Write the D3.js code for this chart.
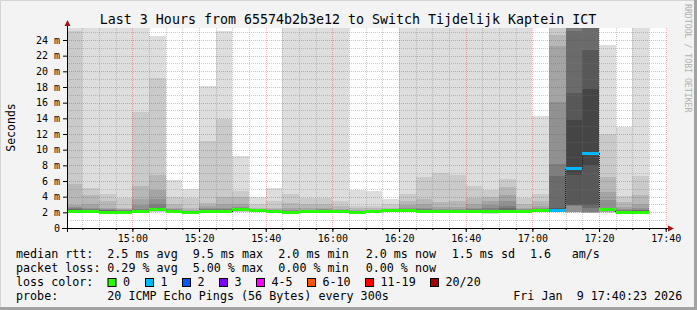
<!DOCTYPE html>
<html>
<head>
<meta charset="utf-8">
<script src="https://cdn.jsdelivr.net/npm/d3@7"></script>
<style>
body { margin: 0; background: #f3f3f3; }
text { font-family: "DejaVu Sans Mono", monospace; white-space: pre; }
</style>
</head>
<body>
<div id="chart"></div>
<script>
var svgWidth = 697;
var svgHeight = 310;

var margin = { top: 28, left: 67 };
var width = 600;
var height = 200;

// graph window (3 hours)
var graphStart = "2026-01-09 14:40:23";
var graphEnd = "2026-01-09 17:40:23";

// end of each 5 minute step
var stepEnd = ["14:45", "14:50", "14:55", "15:00", "15:05", "15:10", "15:15", "15:20", "15:25",
	"15:30", "15:35", "15:40", "15:45", "15:50", "15:55", "16:00", "16:05", "16:10", "16:15",
	"16:20", "16:25", "16:30", "16:35", "16:40", "16:45", "16:50", "16:55", "17:00", "17:05",
	"17:10", "17:15", "17:20", "17:25", "17:30", "17:35"];

// median rtt per step (ms)
var median = [2.1, 2.1, 2.0, 2.0, 2.1, 2.3, 2.1, 1.95, 2.1, 2.1, 2.3, 2.2, 2.1, 1.95, 2.1, 2.1,
	2.1, 1.95, 2.1, 2.25, 2.25, 2.1, 2.1, 2.1, 2.1, 2.05, 2.15, 2.15, 2.25, 2.25, 7.55, 9.5,
	2.3, 2.0, 2.0];

// lost pings per step (of 20)
var loss = [0, 0, 0, 0, 0, 0, 0, 0, 0, 0, 0, 0, 0, 0, 0, 0, 0, 0, 0, 0, 0, 0, 0, 0, 0, 0, 0,
	0, 0, 1, 1, 1, 0, 0, 0];

// 20 sorted ping times per step (ms), values above 25.5 are off the chart
var pings = [
	[1.88, 1.9, 1.93, 1.95, 1.97, 1.99, 2.01, 2.03, 2.05, 2.08, 2.2, 2.28, 2.35, 2.45, 2.55, 2.7, 2.9, 5.6, 25.2, 27],
	[1.88, 1.9, 1.93, 1.95, 1.97, 1.99, 2.01, 2.03, 2.05, 2.08, 2.2, 2.25, 2.3, 2.35, 2.45, 2.6, 3.0, 4.2, 5.1, 27],
	[1.8, 1.83, 1.86, 1.88, 1.9, 1.92, 1.94, 1.96, 1.97, 1.99, 2.1, 2.15, 2.2, 2.25, 2.3, 2.4, 2.6, 3.45, 4.3, 27],
	[1.8, 1.83, 1.86, 1.88, 1.9, 1.92, 1.94, 1.96, 1.97, 1.99, 2.05, 2.1, 2.15, 2.2, 2.25, 2.3, 2.4, 2.6, 3.8, 27],
	[1.88, 1.9, 1.93, 1.95, 1.97, 1.99, 2.01, 2.03, 2.05, 2.08, 2.2, 2.25, 2.3, 2.35, 2.45, 2.94, 3.7, 5.36, 14.85, 27],
	[2.05, 2.1, 2.13, 2.16, 2.19, 2.21, 2.23, 2.25, 2.27, 2.29, 2.4, 2.45, 2.5, 2.6, 3.0, 3.7, 4.85, 6.8, 19.1, 24.5],
	[1.88, 1.9, 1.93, 1.95, 1.97, 1.99, 2.01, 2.03, 2.05, 2.08, 2.15, 2.2, 2.25, 2.3, 2.35, 2.45, 2.6, 3.1, 3.9, 6.1],
	[1.75, 1.78, 1.8, 1.83, 1.85, 1.87, 1.89, 1.91, 1.92, 1.94, 1.98, 2.0, 2.05, 2.1, 2.15, 2.2, 2.3, 2.6, 3.8, 5.0],
	[1.88, 1.9, 1.93, 1.95, 1.97, 1.99, 2.01, 2.03, 2.05, 2.08, 2.15, 2.2, 2.25, 2.3, 2.4, 2.5, 2.8, 3.2, 11.1, 18.1],
	[1.88, 1.9, 1.93, 1.95, 1.97, 1.99, 2.01, 2.03, 2.05, 2.08, 2.2, 2.25, 2.3, 2.35, 2.45, 2.6, 3.0, 3.9, 13.9, 25.2],
	[2.05, 2.1, 2.13, 2.16, 2.19, 2.21, 2.23, 2.25, 2.27, 2.29, 2.35, 2.4, 2.45, 2.5, 2.6, 2.7, 3.0, 3.9, 4.7, 9.2],
	[1.98, 2.02, 2.05, 2.08, 2.1, 2.12, 2.14, 2.16, 2.18, 2.19, 2.24, 2.26, 2.28, 2.3, 2.35, 2.4, 2.45, 2.6, 3.0, 3.9],
	[1.88, 1.9, 1.93, 1.95, 1.97, 1.99, 2.01, 2.03, 2.05, 2.08, 2.12, 2.15, 2.18, 2.2, 2.25, 2.3, 2.4, 2.6, 3.5, 5.1],
	[1.75, 1.78, 1.8, 1.83, 1.85, 1.87, 1.89, 1.91, 1.92, 1.94, 1.98, 2.0, 2.05, 2.1, 2.2, 2.35, 2.6, 3.2, 4.4, 27],
	[1.88, 1.9, 1.93, 1.95, 1.97, 1.99, 2.01, 2.03, 2.05, 2.08, 2.14, 2.17, 2.2, 2.25, 2.3, 2.35, 2.5, 3.0, 3.8, 27],
	[1.88, 1.9, 1.93, 1.95, 1.97, 1.99, 2.01, 2.03, 2.05, 2.08, 2.14, 2.17, 2.2, 2.25, 2.3, 2.4, 2.5, 3.0, 3.8, 27],
	[1.88, 1.9, 1.93, 1.95, 1.97, 1.99, 2.01, 2.03, 2.05, 2.08, 2.13, 2.16, 2.2, 2.25, 2.3, 2.35, 2.45, 2.8, 3.5, 27],
	[1.75, 1.78, 1.8, 1.83, 1.85, 1.87, 1.89, 1.91, 1.92, 1.94, 1.98, 2.0, 2.02, 2.05, 2.1, 2.2, 2.3, 2.5, 2.8, 4.9],
	[1.88, 1.9, 1.93, 1.95, 1.97, 1.99, 2.01, 2.03, 2.05, 2.08, 2.12, 2.15, 2.17, 2.2, 2.25, 2.3, 2.35, 2.5, 2.8, 4.7],
	[2.03, 2.07, 2.1, 2.13, 2.15, 2.17, 2.19, 2.21, 2.22, 2.24, 2.26, 2.28, 2.3, 2.32, 2.35, 2.4, 2.45, 2.6, 3.0, 3.7],
	[2.03, 2.07, 2.1, 2.13, 2.15, 2.17, 2.19, 2.21, 2.22, 2.24, 2.28, 2.3, 2.32, 2.35, 2.4, 2.5, 2.9, 3.5, 4.3, 27],
	[1.88, 1.9, 1.93, 1.95, 1.97, 1.99, 2.01, 2.03, 2.05, 2.08, 2.14, 2.17, 2.2, 2.3, 2.4, 2.6, 3.1, 3.75, 6.55, 27],
	[1.88, 1.9, 1.93, 1.95, 1.97, 1.99, 2.01, 2.03, 2.05, 2.08, 2.14, 2.17, 2.2, 2.25, 2.3, 2.45, 2.65, 3.3, 7.0, 27],
	[1.88, 1.9, 1.93, 1.95, 1.97, 1.99, 2.01, 2.03, 2.05, 2.08, 2.14, 2.17, 2.2, 2.25, 2.3, 2.45, 2.7, 3.5, 6.77, 27],
	[1.88, 1.9, 1.93, 1.95, 1.97, 1.99, 2.01, 2.03, 2.05, 2.08, 2.14, 2.17, 2.2, 2.25, 2.4, 2.6, 3.0, 3.8, 5.36, 27],
	[1.85, 1.88, 1.9, 1.93, 1.95, 1.97, 1.99, 2.01, 2.02, 2.04, 2.15, 2.2, 2.25, 2.35, 2.5, 2.9, 3.5, 4.0, 4.8, 27],
	[1.93, 1.96, 1.99, 2.02, 2.04, 2.06, 2.08, 2.1, 2.12, 2.14, 2.25, 2.3, 2.35, 2.5, 2.8, 3.5, 4.2, 5.2, 6.25, 27],
	[1.93, 1.96, 1.99, 2.02, 2.04, 2.06, 2.08, 2.1, 2.12, 2.14, 2.2, 2.22, 2.25, 2.3, 2.35, 2.4, 2.5, 3.0, 3.8, 27],
	[2.03, 2.07, 2.1, 2.13, 2.15, 2.17, 2.19, 2.21, 2.22, 2.24, 2.3, 2.32, 2.35, 2.4, 2.45, 2.55, 2.8, 3.5, 4.4, 14.3],
	[2.0, 2.05, 2.08, 2.1, 2.13, 2.16, 2.18, 2.2, 2.22, 2.24, 2.35, 2.45, 2.6, 6.6, 8.2, 16.1, 23.2, 24.6, 26, 27],
	[1.95, 1.98, 2.0, 2.02, 2.05, 2.85, 2.9, 2.94, 6.8, 7.45, 7.65, 13.8, 17.2, 25.1, 26, 26.2, 26.4, 26.6, 26.8, 27],
	[1.92, 1.95, 1.97, 1.99, 2.0, 2.0, 2.5, 2.94, 8.1, 9.4, 9.6, 17.8, 22.7, 26, 26.2, 26.4, 26.6, 26.8, 27, 27.2],
	[1.95, 2.0, 2.05, 2.1, 2.15, 2.18, 2.21, 2.24, 2.26, 2.28, 2.35, 2.4, 2.45, 2.5, 2.6, 3.6, 4.6, 6.55, 12.0, 23.3],
	[1.8, 1.83, 1.86, 1.88, 1.9, 1.92, 1.94, 1.96, 1.97, 1.99, 2.07, 2.1, 2.15, 2.2, 2.3, 2.4, 2.7, 3.3, 4.1, 12.85],
	[1.8, 1.83, 1.86, 1.88, 1.9, 1.92, 1.94, 1.96, 1.97, 1.99, 2.12, 2.15, 2.2, 2.25, 2.35, 2.5, 3.1, 4.15, 6.6, 27]
];

// y axis labels
var yTickValues = [0, 2, 4, 6, 8, 10, 12, 14, 16, 18, 20, 22, 24];

// loss color legend
var lossLabels = ["0", "1", "2", "3", "4-5", "6-10", "11-19", "20/20"];
var lossColors = ["#26ff00", "#00b8ff", "#0059ff", "#7e00ff", "#ff00ff", "#ff5500", "#ff0000", "#a10000"];
var lossBoxX = [108, 145.5, 182.5, 219.5, 256.5, 307.5, 365.5, 430.5];

// legend rows: label, items and their x positions
var legendRows = [
	{ label: "median rtt:", items: ["2.5 ms avg", "9.5 ms max", "2.0 ms min", "2.0 ms now", "1.5 ms sd", "1.6", "am/s"],
		xs: [107.3, 192.7, 278.3, 365.7, 451.7, 530, 571.7] },
	{ label: "packet loss:", items: ["0.29 % avg", "5.00 % max", "0.00 % min", "0.00 % now"],
		xs: [107.3, 192.7, 278.3, 365.7] }
];

var parseTime = d3.timeParse("%Y-%m-%d %H:%M:%S");
var parseStep = d3.timeParse("%Y-%m-%d %H:%M");
var tStart = parseTime(graphStart);
var tEnd = parseTime(graphEnd);
var steps = stepEnd.map(s => parseStep("2026-01-09 " + s));

var svg = d3.select("#chart")
	.append("svg")
	.attr("width", svgWidth)
	.attr("height", svgHeight);

// canvas background and frame
svg.append("rect").attr("width", svgWidth).attr("height", svgHeight).attr("fill", "#f3f3f3");
svg.append("path").attr("d", "M0.5,309V0.5H696").attr("stroke", "#d4d4d4").attr("fill", "none");
svg.append("path").attr("d", "M0,308.5H695.5V0").attr("stroke", "#a2a2a2").attr("stroke-width", 3).attr("fill", "none");

var x = d3.scaleTime().domain([tStart, tEnd]).range([margin.left, margin.left + width]);
var y = d3.scaleLinear().domain([0, 25.53]).range([margin.top + height, margin.top]);

svg.append("rect")
	.attr("x", margin.left).attr("y", margin.top)
	.attr("width", width).attr("height", height)
	.attr("fill", "#ffffff");

svg.append("clipPath").attr("id", "plotclip")
	.append("rect")
	.attr("x", margin.left).attr("y", margin.top)
	.attr("width", width).attr("height", height);

// left edge of a step, clipped to the graph start
function stepStart(t) {
	return x(Math.max(+d3.timeMinute.offset(t, -5), +tStart));
}

// smoke: layer i spans ping i .. ping 21-i, darker towards the middle
var smokeGroup = svg.append("g").attr("clip-path", "url(#plotclip)").attr("shape-rendering", "crispEdges");
var layerIdx = d3.range(10);
function smokeColor(i) {
	var g = Math.round(190 / 10 * (9 - i)) + 50;
	return d3.rgb(g, g, g).toString();
}

steps.forEach(function(t, k) {
	var x0 = stepStart(t);
	var x1 = x(t);
	smokeGroup.selectAll(null)
		.data(layerIdx)
		.enter()
		.append("rect")
		.attr("x", x0)
		.attr("width", x1 - x0)
		.attr("y", i => y(pings[k][19 - i]))
		.attr("height", i => y(pings[k][i]) - y(pings[k][19 - i]))
		.attr("fill", i => smokeColor(i));
});

// grid (dotted, major every 2 ms / 20 min)
var gridGroup = svg.append("g").attr("shape-rendering", "crispEdges");
d3.range(1, 26).forEach(function(v) {
	gridGroup.append("line")
		.attr("x1", margin.left).attr("x2", margin.left + width)
		.attr("y1", Math.round(y(v)) + 0.5).attr("y2", Math.round(y(v)) + 0.5)
		.attr("stroke", v % 2 === 0 ? "rgba(255,0,0,0.32)" : "rgba(120,120,120,0.38)")
		.attr("stroke-dasharray", "1,1");
});
x.ticks(d3.timeMinute.every(5)).forEach(function(t) {
	var px = Math.round(x(t)) + 0.5;
	gridGroup.append("line")
		.attr("x1", px).attr("x2", px)
		.attr("y1", margin.top).attr("y2", margin.top + height)
		.attr("stroke", t.getMinutes() % 20 === 0 ? "rgba(255,0,0,0.32)" : "rgba(120,120,120,0.38)")
		.attr("stroke-dasharray", "1,1");
});

// median: dotted step line plus loss coloured segments
var medianPts = [];
steps.forEach(function(t, k) {
	medianPts.push([stepStart(t), y(median[k])]);
	medianPts.push([x(t), y(median[k])]);
});
svg.append("path")
	.attr("d", d3.line()(medianPts))
	.attr("fill", "none")
	.attr("stroke", "#222")
	.attr("stroke-dasharray", "1,1")
	.attr("shape-rendering", "crispEdges");

function lossIndex(n) {
	if (n <= 3) return n;
	if (n <= 5) return 4;
	if (n <= 10) return 5;
	if (n <= 19) return 6;
	return 7;
}

svg.append("g").attr("clip-path", "url(#plotclip)")
	.selectAll("rect")
	.data(steps)
	.enter()
	.append("rect")
	.attr("x", t => stepStart(t))
	.attr("width", t => x(t) - stepStart(t))
	.attr("y", (t, k) => y(median[k]) - 1.5)
	.attr("height", 3)
	.attr("fill", (t, k) => lossColors[lossIndex(loss[k])])
	.attr("shape-rendering", "crispEdges");

// axes
var bottomAxis = d3.axisBottom(x)
	.ticks(d3.timeMinute.every(20))
	.tickFormat(d3.timeFormat("%H:%M"))
	.tickSize(4)
	.tickPadding(3);
var xAxis = svg.append("g")
	.attr("transform", `translate(0, ${margin.top + height})`)
	.call(bottomAxis);
xAxis.select(".domain").remove();
xAxis.selectAll("text").attr("font-size", 10).attr("font-family", "DejaVu Sans Mono").attr("fill", "#000");

var minorAxis = svg.append("g")
	.attr("transform", `translate(0, ${margin.top + height})`)
	.call(d3.axisBottom(x).ticks(d3.timeMinute.every(5)).tickSize(2).tickFormat(""));
minorAxis.select(".domain").remove();

var leftAxis = d3.axisLeft(y)
	.tickValues(yTickValues)
	.tickFormat(d => d === 0 ? "0" : d + " m")
	.tickSize(4)
	.tickPadding(3);
var yAxis = svg.append("g")
	.attr("transform", `translate(${margin.left}, 0)`)
	.call(leftAxis);
yAxis.select(".domain").remove();
yAxis.selectAll("text").attr("font-size", 10).attr("font-family", "DejaVu Sans Mono").attr("fill", "#000");

svg.append("line")
	.attr("x1", 62).attr("x2", 668)
	.attr("y1", 228.5).attr("y2", 228.5)
	.attr("stroke", "#000");
svg.append("line")
	.attr("x1", 67.5).attr("x2", 67.5)
	.attr("y1", 232).attr("y2", 26)
	.attr("stroke", "#000");
svg.append("path").attr("d", "M668,225.5L674,228.5L668,231.5Z").attr("fill", "#a01515");
svg.append("path").attr("d", "M64.5,26L67.5,20L70.5,26Z").attr("fill", "#a01515");

// titles
svg.append("text")
	.attr("x", 348).attr("y", 24)
	.attr("text-anchor", "middle")
	.attr("font-size", 13.3)
	.text("Last 3 Hours from 65574b2b3e12 to Switch Tijdelijk Kaptein ICT");

svg.append("text")
	.attr("transform", "translate(15, 127.5) rotate(-90)")
	.attr("text-anchor", "middle")
	.attr("font-size", 11.5)
	.text("Seconds");

svg.append("text")
	.attr("transform", "translate(685, 4) rotate(90)")
	.attr("font-size", 8.2)
	.attr("fill", "#b0b0b0")
	.text("RRDTOOL / TOBI OETIKER");

// legend
var legend = svg.append("g").attr("font-size", 11.7);
legendRows.forEach(function(row, r) {
	var base = 258 + r * 14;
	legend.append("text").attr("x", 16).attr("y", base).text(row.label);
	row.items.forEach(function(s, j) {
		legend.append("text").attr("x", row.xs[j]).attr("y", base).text(s);
	});
});

legend.append("text").attr("x", 16).attr("y", 286).text("loss color:");
lossLabels.forEach(function(s, j) {
	legend.append("rect")
		.attr("x", lossBoxX[j]).attr("y", 278.5)
		.attr("width", 8).attr("height", 8)
		.attr("fill", lossColors[j])
		.attr("stroke", "#000");
	legend.append("text").attr("x", lossBoxX[j] + 15).attr("y", 286).text(s);
});

legend.append("text").attr("x", 16).attr("y", 300).text("probe:");
legend.append("text").attr("x", 107.3).attr("y", 300).text("20 ICMP Echo Pings (56 Bytes) every 300s");
legend.append("text").attr("x", 513.3).attr("y", 300).text("Fri Jan  9 17:40:23 2026");
</script>
</body>
</html>
